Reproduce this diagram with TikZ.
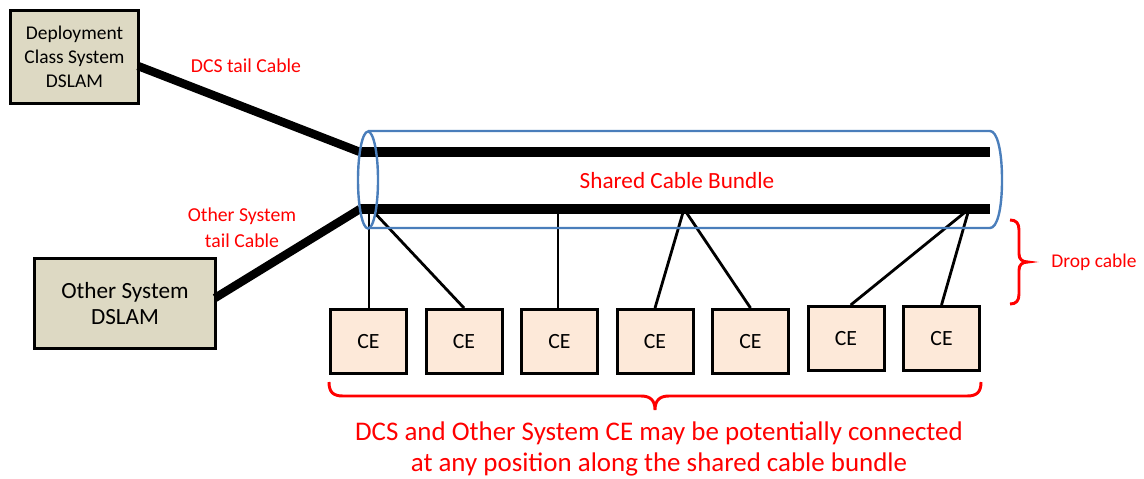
\documentclass[tikz,border=0pt]{standalone}
\usepackage{fontspec}
\setmainfont{Carlito}
\definecolor{dslamfill}{HTML}{DDD9C3}
\definecolor{cefill}{HTML}{FDE9D9}
\definecolor{cylblue}{HTML}{4A7EBB}
\begin{document}
\begin{tikzpicture}[x=0.75pt,y=-0.75pt,
  dslam/.style={draw=black, line width=2.25pt, fill=dslamfill, align=center, inner sep=0pt},
  cebox/.style={draw=black, line width=2.25pt, fill=cefill, minimum width=57pt, minimum height=48pt, inner sep=0pt, font=\fontsize{16.3}{19}\selectfont},
  tail/.style={line width=6.3pt},
  bundle/.style={line width=7.2pt},
  drop/.style={line width=2.1pt},
  lbl/.style={text=red, align=center, inner sep=0pt},
  cyl/.style={draw=cylblue, line width=1.8pt},
  brc/.style={draw=red, line width=2.2pt}
]
\useasboundingbox (0,0) rectangle (1144,478);

% DSLAM boxes
\node[dslam, minimum width=96pt, minimum height=69.75pt, font=\fontsize{14.6}{18}\selectfont] (dcs) at (74.5,57) {Deployment\\Class System\\DSLAM};
\node[dslam, minimum width=135.75pt, minimum height=67.5pt, font=\fontsize{17.4}{19.5}\selectfont] (other) at (125,303.5) {Other System\\DSLAM};

% junction coordinates
\coordinate (dcsport) at (138,66);
\coordinate (otherport) at (215,298);
\coordinate (jt) at (360,152);
\coordinate (jb) at (360,209);
\coordinate (et) at (990,152);
\coordinate (eb) at (990,209);
\coordinate (t1) at (369,209);
\coordinate (t2) at (371,209);
\coordinate (t3) at (558,209);
\coordinate (t4) at (684,209);
\coordinate (t6) at (969,209);

% CE boxes
\node[cebox] (ce1) at (368.5,341.5) {CE};
\node[cebox] (ce2) at (464,341.5) {CE};
\node[cebox] (ce3) at (559.5,341.5) {CE};
\node[cebox] (ce4) at (655,341.5) {CE};
\node[cebox] (ce5) at (750.5,341.5) {CE};
\node[cebox] (ce6) at (846,338.5) {CE};
\node[cebox] (ce7) at (941.5,338.5) {CE};

% tail cables and bundle
\draw[tail] (dcsport) -- (jt);
\draw[tail] (otherport) -- (jb);
\draw[bundle] (jt) -- (et);
\draw[bundle] (jb) -- (eb);

% drop cables
\draw[drop] (t1) -- (ce1.north -| t1);
\draw[drop] (t2) -- (ce2.north);
\draw[drop] (t3) -- (ce3.north -| t3);
\draw[drop] (t4) -- (ce4.north);
\draw[drop] (t4) -- (ce5.north);
\draw[drop] (t6) -- ([xshift=3.5pt]ce6.north);
\draw[drop] (t6) -- (ce7.north);

% cylinder
\draw[cyl] (368,131) -- (990,131) .. controls (997,131) and (1002,150) .. (1002,180) .. controls (1002,210) and (997,228) .. (990,228) -- (368,228);
\draw[cyl] (368,180) ellipse [x radius=10, y radius=48.5];

% braces
\draw[brc] (1010,220) .. controls (1016,220) and (1019,223) .. (1019,230) -- (1019,254) .. controls (1019,259) and (1022,262) .. (1028,262) .. controls (1022,262) and (1019,265) .. (1019,270) -- (1019,294) .. controls (1019,301) and (1016,304) .. (1010,304);
\draw[brc] (329,382) .. controls (329,392) and (333,396) .. (343,396) -- (641,396) .. controls (650,396) and (655,400) .. (655,410) .. controls (655,400) and (660,396) .. (669,396) -- (967,396) .. controls (977,396) and (981,392) .. (981,382);

% labels
\node[lbl, font=\fontsize{14.8}{19.5}\selectfont] (ldcs) at (246,66) {DCS tail Cable};
\node[lbl, font=\fontsize{14.8}{19.5}\selectfont] (lother) at (242,228) {Other System\\tail Cable};
\node[lbl, font=\fontsize{17.4}{21}\selectfont] (lbundle) at (677,181) {Shared Cable Bundle};
\node[lbl, font=\fontsize{14.6}{18}\selectfont] (ldrop) at (1094,262) {Drop cable};
\node[lbl, font=\fontsize{20.2}{23.25}\selectfont] (lbottom) at (659,449) {DCS and Other System CE may be potentially connected\\at any position along the shared cable bundle};
\end{tikzpicture}
\end{document}
